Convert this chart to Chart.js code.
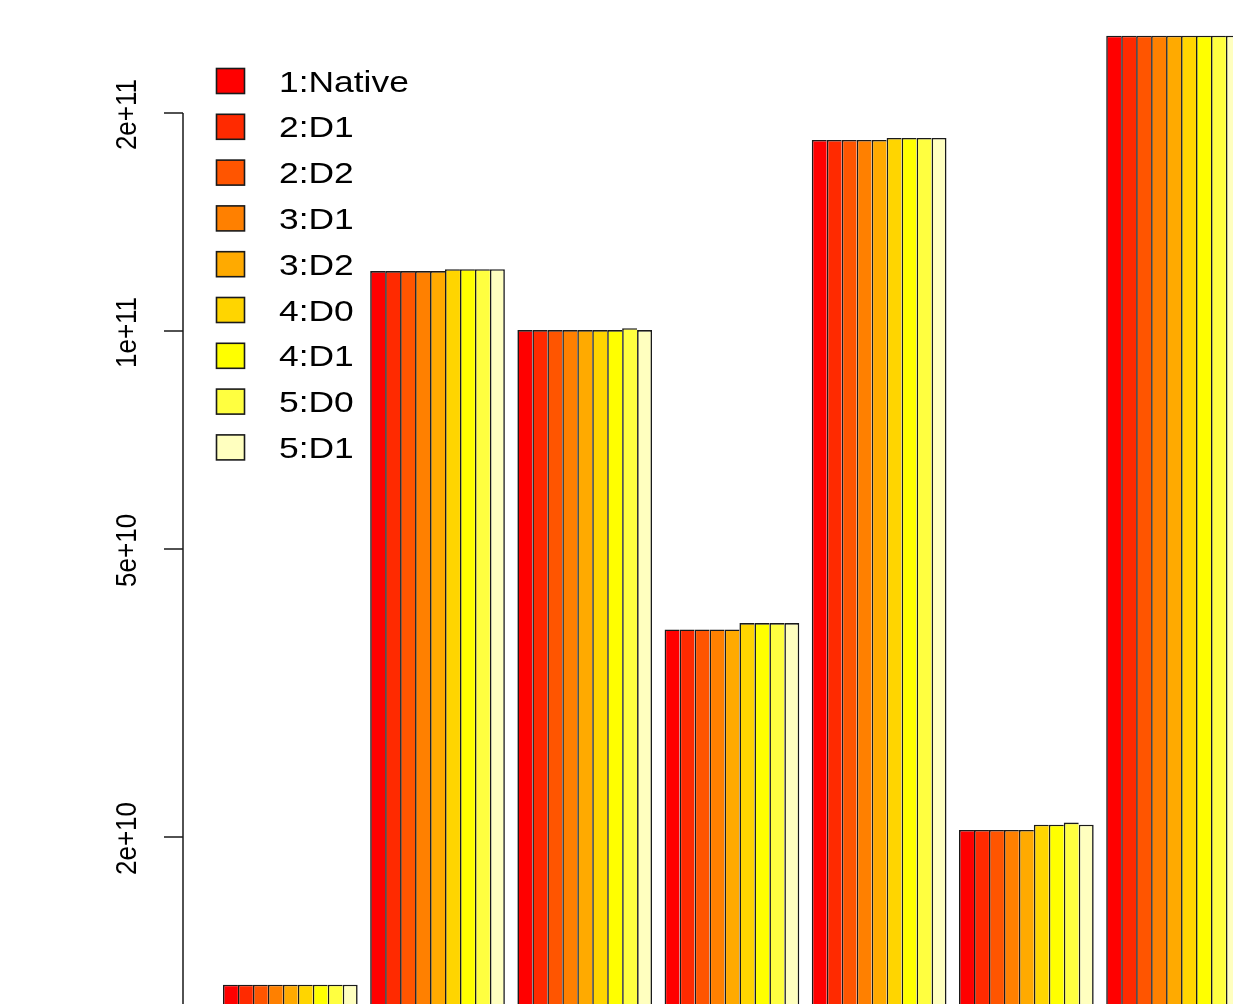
<!DOCTYPE html>
<html>
<head>
<meta charset="utf-8">
<script src="https://cdn.jsdelivr.net/npm/chart.js@4/dist/chart.umd.min.js"></script>
<style>
  html, body { margin: 0; padding: 0; background: #fff; overflow: hidden; }
  canvas { display: block; }
</style>
</head>
<body>
<canvas id="c" width="1300" height="1300"></canvas>
<script>
// Benchmark groups (one cluster of bars per group)
const categories = ['G1', 'G2', 'G3', 'G4', 'G5', 'G6', 'G7'];

// Configuration names shown in the legend
const seriesNames = ['1:Native', '2:D1', '2:D2', '3:D1', '3:D2', '4:D0', '4:D1', '5:D0', '5:D1'];

// heat.colors(9)
const seriesColors = ['#FF0000', '#FF2A00', '#FF5500', '#FF8000', '#FFAA00',
                      '#FFD500', '#FFFF00', '#FFFF40', '#FFFFBF'];

// Values per configuration, one per group
const native = [1.25e10, 1.210e11, 1.003e11, 3.87e10, 1.836e11, 2.045e10, 2.558e11];
const d2_1   = [1.25e10, 1.210e11, 1.003e11, 3.87e10, 1.836e11, 2.045e10, 2.558e11];
const d2_2   = [1.25e10, 1.210e11, 1.003e11, 3.87e10, 1.836e11, 2.045e10, 2.558e11];
const d3_1   = [1.25e10, 1.210e11, 1.003e11, 3.87e10, 1.836e11, 2.045e10, 2.558e11];
const d3_2   = [1.25e10, 1.210e11, 1.003e11, 3.87e10, 1.836e11, 2.045e10, 2.558e11];
const d4_0   = [1.25e10, 1.217e11, 1.003e11, 3.95e10, 1.848e11, 2.080e10, 2.558e11];
const d4_1   = [1.25e10, 1.217e11, 1.003e11, 3.95e10, 1.848e11, 2.080e10, 2.558e11];
const d5_0   = [1.25e10, 1.217e11, 1.009e11, 3.95e10, 1.848e11, 2.094e10, 2.558e11];
const d5_1   = [1.25e10, 1.217e11, 1.003e11, 3.95e10, 1.848e11, 2.080e10, 2.558e11];
const seriesValues = [native, d2_1, d2_2, d3_1, d3_2, d4_0, d4_1, d5_0, d5_1];

// Y axis ticks (log scale)
const yTickValues = [1e10, 2e10, 5e10, 1e11, 2e11];
const yTickLabels = ['1e+10', '2e+10', '5e+10', '1e+11', '2e+11'];

const FONT = '"Liberation Sans", Arial, sans-serif';
const STRETCH = 1.18;

// R-style axis on the left edge of the plot region
const rAxis = {
  id: 'rAxis',
  afterDraw(chart) {
    const ctx = chart.ctx;
    const y = chart.scales.y;
    const x0 = chart.chartArea.left;
    const yTop = y.getPixelForValue(yTickValues[yTickValues.length - 1]);
    const yBot = y.getPixelForValue(yTickValues[0]);
    ctx.save();
    ctx.strokeStyle = '#1a1a1a';
    ctx.lineWidth = 1.5;
    ctx.beginPath();
    ctx.moveTo(x0, yTop);
    ctx.lineTo(x0, yBot);
    yTickValues.forEach(v => {
      const p = y.getPixelForValue(v);
      ctx.moveTo(x0, p);
      ctx.lineTo(x0 - 19, p);
    });
    ctx.stroke();
    ctx.fillStyle = '#000';
    ctx.font = '26px ' + FONT;
    ctx.textAlign = 'center';
    ctx.textBaseline = 'middle';
    yTickValues.forEach((v, i) => {
      const p = y.getPixelForValue(v);
      ctx.save();
      ctx.translate(x0 - 55, p + 1.5);
      ctx.scale(1.1, 1);
      ctx.rotate(-Math.PI / 2);
      ctx.fillText(yTickLabels[i], 0, 0);
      ctx.restore();
    });
    ctx.restore();
  }
};

// Legend in the top-left corner, one row per configuration
const rLegend = {
  id: 'rLegend',
  afterDraw(chart) {
    const ctx = chart.ctx;
    ctx.save();
    ctx.font = '30px ' + FONT;
    ctx.textAlign = 'left';
    ctx.textBaseline = 'alphabetic';
    chart.data.datasets.forEach((ds, i) => {
      const cy = 81 + i * 45.8;
      ctx.fillStyle = ds.backgroundColor;
      ctx.fillRect(216.5, cy - 12.5, 28, 25);
      ctx.strokeStyle = '#1a1a1a';
      ctx.lineWidth = 1.6;
      ctx.strokeRect(216.5, cy - 12.5, 28, 25);
      ctx.fillStyle = '#000';
      ctx.save();
      ctx.translate(279, cy + 10.5);
      ctx.scale(STRETCH, 1);
      ctx.fillText(ds.label, 0, 0);
      ctx.restore();
    });
    ctx.restore();
  }
};

const datasets = seriesNames.map((name, k) => ({
  label: name,
  data: categories.map((c, i) => ({ x: i, y: seriesValues[k][i] })),
  backgroundColor: seriesColors[k],
  borderColor: '#1a1a1a',
  borderWidth: { top: 1.6, left: 1.6, right: k === seriesNames.length - 1 ? 1.6 : 0, bottom: 0 },
  borderSkipped: 'start',
  categoryPercentage: 0.915,
  barPercentage: 1.0
}));

new Chart(document.getElementById('c'), {
  type: 'bar',
  data: { datasets },
  options: {
    responsive: false,
    animation: false,
    devicePixelRatio: 1,
    layout: { padding: { left: 183, top: 20, right: 0, bottom: 50 } },
    plugins: { legend: { display: false }, tooltip: { enabled: false }, title: { display: false } },
    scales: {
      x: {
        type: 'linear',
        display: false,
        offset: false,
        min: -0.729,
        max: 6.859,
        afterBuildTicks: s => { s.ticks = categories.map((c, i) => ({ value: i })); }
      },
      y: {
        type: 'logarithmic',
        display: false,
        bounds: 'data',
        min: 5.377e9,
        max: 2.689e11
      }
    }
  },
  plugins: [rAxis, rLegend]
});
</script>
</body>
</html>
